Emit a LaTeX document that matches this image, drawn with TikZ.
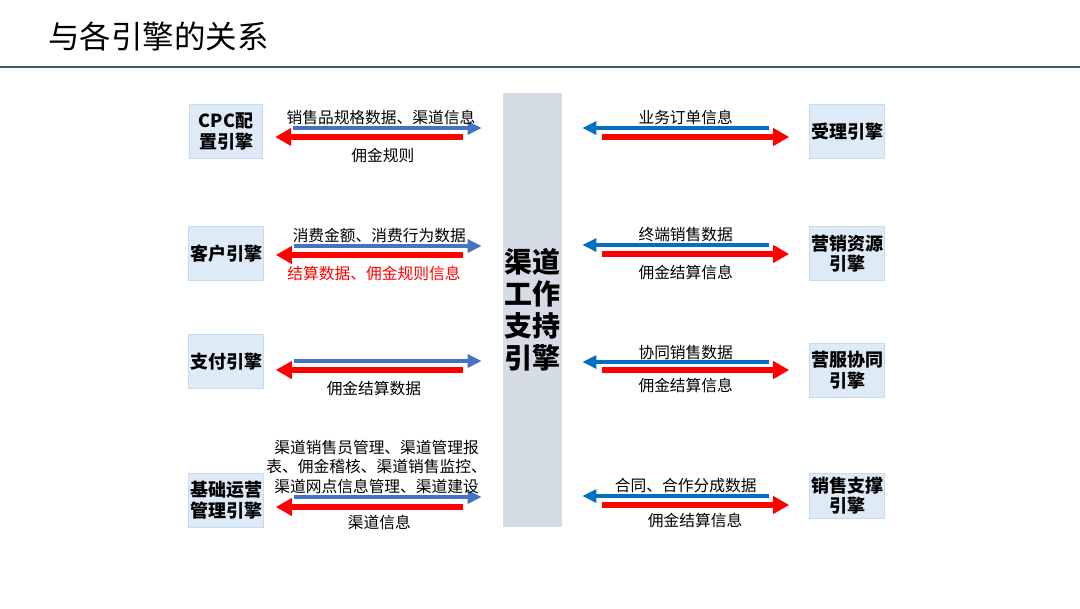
\documentclass[tikz,border=0pt]{standalone}
\usepackage{fontspec}
\setmainfont{Noto Sans CJK SC}
\usepackage{xcolor}
\usepackage{tikz}
\usetikzlibrary{arrows.meta,calc}
\definecolor{titleline}{HTML}{44546A}
\definecolor{enginefill}{HTML}{DEEBF7}
\definecolor{engineline}{HTML}{C5DBF0}
\definecolor{hubfill}{HTML}{D6DCE5}
\definecolor{leftblue}{HTML}{4472C4}
\definecolor{rightblue}{HTML}{0070C0}
\definecolor{flowred}{HTML}{FF0000}
\tikzset{
  enginebox/.style={
    rectangle, draw=engineline, fill=enginefill, line width=0.75pt,
    minimum width=55pt, minimum height=40.5pt, inner sep=1pt, align=center,
    font=\fontsize{13.5}{15.5}\selectfont\bfseries
  },
  hubbox/.style={
    rectangle, fill=hubfill, minimum width=44.25pt, minimum height=325.5pt,
    inner sep=0pt, align=center, font=\fontsize{21}{24}\selectfont\bfseries
  },
  flowlabel/.style={font=\fontsize{11.8}{14.6}\selectfont, inner sep=1pt, align=center},
  bluearrow/.style={draw=#1, line width=3pt, -{Triangle[length=10.5pt,width=9.5pt]}},
  redarrow/.style={draw=flowred, line width=4pt, -{Triangle[length=12pt,width=12.75pt]}},
  % left side: engine -> hub in blue, hub -> engine in red
  leftout/.style={bluearrow=leftblue, shorten <=22.5pt, shorten >=15.75pt},
  leftin/.style={redarrow, shorten <=30pt, shorten >=9pt},
  % right side: engine -> hub in blue, hub -> engine in red
  rightout/.style={bluearrow=rightblue, shorten <=30pt, shorten >=15pt},
  rightin/.style={redarrow, shorten <=30pt, shorten >=15pt}
}

\begin{document}
\begin{tikzpicture}[x=0.75pt,y=-0.75pt]
\useasboundingbox[fill=white] (0,0) rectangle (1080,608);

\node[anchor=west, inner sep=0pt, font=\fontsize{23.6}{23.6}\selectfont] (title) at (48,36) {与各引擎的关系};
\draw[titleline, line width=1.5pt] (0,67) -- (1080,67);

\node[hubbox] (hub) at (532.5,310) {渠道\\工作\\支持\\引擎};

\node[enginebox] (cpc) at (226,131.5) {CPC配\\置引擎};
\node[enginebox] (cust) at (226,253.5) {客户引擎};
\node[enginebox] (pay) at (226,361.5) {支付引擎};
\node[enginebox] (ops) at (226,500) {基础运营\\管理引擎};

\node[enginebox] (accept) at (847,131.5) {受理引擎};
\node[enginebox] (mktres) at (847,253.5) {营销资源\\引擎};
\node[enginebox] (collab) at (847,370) {营服协同\\引擎};
\node[enginebox, minimum height=33.75pt] (support) at (847,495.5) {销售支撑\\引擎};

% left engines
\draw[leftout] ($(cpc.east)+(0,-3.5)$) -- ($(cpc.east -| hub.west)+(0,-3.5)$)
  node[flowlabel, midway, above, xshift=-1.5pt] {销售品规格数据、渠道信息};
\draw[leftin] ($(cpc.east -| hub.west)+(0,5.5)$) -- ($(cpc.east)+(0,5.5)$)
  node[flowlabel, midway, below=5pt] {佣金规则};

\draw[leftout] ($(cust.east)+(0,-7.5)$) -- ($(cust.east -| hub.west)+(0,-7.5)$)
  node[flowlabel, midway, above, xshift=-3pt] {消费金额、消费行为数据};
\draw[leftin] ($(cust.east -| hub.west)+(0,1.5)$) -- ($(cust.east)+(0,1.5)$)
  node[flowlabel, midway, below=5pt, xshift=-7pt, text=flowred] {结算数据、佣金规则信息};

\draw[leftout] ($(pay.east)+(0,-0.5)$) -- ($(pay.east -| hub.west)+(0,-0.5)$);
\draw[leftin] ($(pay.east -| hub.west)+(0,8.5)$) -- ($(pay.east)+(0,8.5)$)
  node[flowlabel, midway, below=5pt, xshift=-7pt] {佣金结算数据};

\draw[leftout] ($(ops.east)+(0,-3)$) -- ($(ops.east -| hub.west)+(0,-3)$)
  node[flowlabel, midway, above, xshift=-5pt] {渠道销售员管理、渠道管理报\\表、佣金稽核、渠道销售监控、\\渠道网点信息管理、渠道建设};
\draw[leftin] ($(ops.east -| hub.west)+(0,7)$) -- ($(ops.east)+(0,7)$)
  node[flowlabel, midway, below=3pt, xshift=-3pt] {渠道信息};

% right engines
\draw[rightout] ($(accept.west)+(0,-3.5)$) -- ($(accept.west -| hub.east)+(0,-3.5)$)
  node[flowlabel, midway, above] {业务订单信息};
\draw[rightin] ($(accept.west -| hub.east)+(0,5.5)$) -- ($(accept.west)+(0,5.5)$);

\draw[rightout] ($(mktres.west)+(0,-8.5)$) -- ($(mktres.west -| hub.east)+(0,-8.5)$)
  node[flowlabel, midway, above] {终端销售数据};
\draw[rightin] ($(mktres.west -| hub.east)+(0,0.5)$) -- ($(mktres.west)+(0,0.5)$)
  node[flowlabel, midway, below=5pt] {佣金结算信息};

\draw[rightout] ($(collab.west)+(0,-8)$) -- ($(collab.west -| hub.east)+(0,-8)$)
  node[flowlabel, midway, above=-1pt] {协同销售数据};
\draw[rightin] ($(collab.west -| hub.east)+(0,0)$) -- ($(collab.west)+(0,0)$)
  node[flowlabel, midway, below=3pt] {佣金结算信息};

\draw[rightout] ($(support.west)+(0,0.5)$) -- ($(support.west -| hub.east)+(0,0.5)$)
  node[flowlabel, midway, above] {合同、合作分成数据};
\draw[rightin] ($(support.west -| hub.east)+(0,9.5)$) -- ($(support.west)+(0,9.5)$)
  node[flowlabel, midway, below=3pt, xshift=7pt] {佣金结算信息};
\end{tikzpicture}
\end{document}
